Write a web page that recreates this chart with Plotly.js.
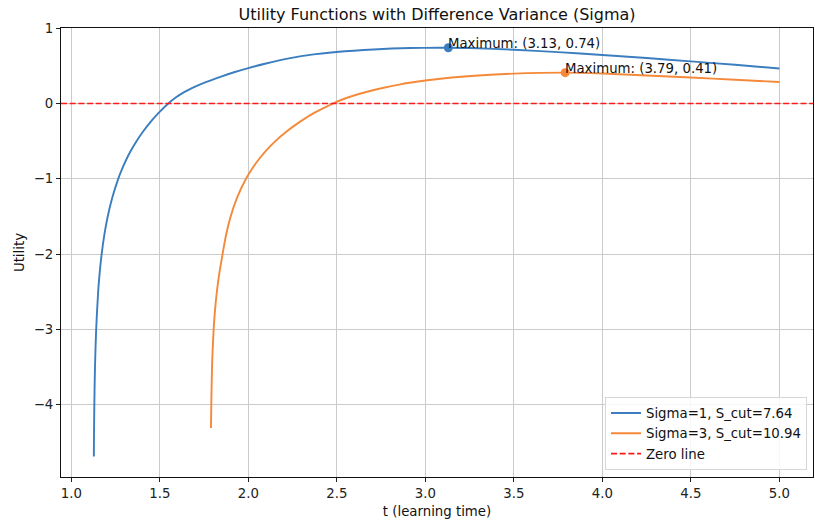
<!DOCTYPE html>
<html>
<head>
<meta charset="utf-8">
<script src="https://cdn.plot.ly/plotly-3.0.1.min.js"></script>
<style>html,body{margin:0;padding:0;background:#fff;}#chart{width:815px;height:524px;}</style>
</head>
<body>
<div id="chart"></div>
<script>
// Series 1: Sigma=1, S_cut=7.64
var blueT = [1.1276, 1.1281, 1.1303, 1.1340, 1.1406, 1.1519, 1.1604, 1.1716, 1.1863, 1.2058, 1.2315, 1.2653, 1.2860, 1.3098, 1.3371, 1.3684, 1.4046, 1.4458, 1.4936, 1.548, 1.59, 1.64, 1.70, 1.76, 1.842, 1.92, 2.0, 2.1, 2.237, 2.369, 2.497, 2.708, 2.915, 3.0, 3.13, 3.25, 3.5, 3.75, 4.0, 4.25, 4.5, 4.75, 5.0];
var blueU = [-4.687, -4.5, -4.0, -3.5, -3.0, -2.5, -2.25, -2.0, -1.75, -1.5, -1.25, -1.0, -0.875, -0.75, -0.625, -0.5, -0.375, -0.25, -0.125, 0.0, 0.08, 0.155, 0.225, 0.285, 0.355, 0.415, 0.47, 0.532, 0.603, 0.652, 0.684, 0.718, 0.737, 0.739, 0.74, 0.737, 0.715, 0.683, 0.645, 0.604, 0.56, 0.514, 0.466];
// Series 2: Sigma=3, S_cut=10.94
var orangeT = [1.7893, 1.7910, 1.7952, 1.7990, 1.8043, 1.8118, 1.8224, 1.8367, 1.8548, 1.874, 1.9003, 1.9367, 1.987, 2.0187, 2.0565, 2.1006, 2.1531, 2.2144, 2.2868, 2.3720, 2.4774, 2.55, 2.63, 2.727, 2.859, 3.0, 3.15, 3.3, 3.5, 3.79, 4.0, 4.25, 4.5, 4.75, 5.0];
var orangeU = [-4.31, -4.0, -3.5, -3.25, -3.0, -2.75, -2.5, -2.25, -2.0, -1.75, -1.5, -1.25, -1.0, -0.875, -0.75, -0.625, -0.5, -0.375, -0.25, -0.125, 0.0, 0.07, 0.13, 0.19, 0.255, 0.305, 0.345, 0.373, 0.397, 0.41, 0.398, 0.373, 0.345, 0.315, 0.285];
// Maxima
var maxT = [3.13, 3.79];
var maxU = [0.74, 0.41];
var maxLabels = ["Maximum: (3.13, 0.74)", "Maximum: (3.79, 0.41)"];
var seriesNames = ["Sigma=1, S_cut=7.64", "Sigma=3, S_cut=10.94", "Zero line"];
var zeroLevel = 0;
var xRange = [0.942, 5.19];
var yRange = [-4.96, 1.003];
var xTicks = [1.0, 1.5, 2.0, 2.5, 3.0, 3.5, 4.0, 4.5, 5.0];
var yTicks = [-4, -3, -2, -1, 0, 1];

var blue = '#3b7ebf', orange = '#f5893a';
var F = 'DejaVu Sans, sans-serif';
var FS = 13.3;

var traces = [
  {x: blueT, y: blueU, mode: 'lines', name: seriesNames[0], line: {color: blue, width: 1.9, shape: 'spline', smoothing: 0.8}},
  {x: orangeT, y: orangeU, mode: 'lines', name: seriesNames[1], line: {color: orange, width: 1.9, shape: 'spline', smoothing: 0.8}},
  {x: xRange, y: [zeroLevel, zeroLevel], mode: 'lines', name: seriesNames[2], line: {color: '#ff1a1a', width: 1.7, dash: '6px,2.7px'}},
  {x: [maxT[0]], y: [maxU[0]], mode: 'markers', showlegend: false, marker: {color: blue, size: 9}},
  {x: [maxT[1]], y: [maxU[1]], mode: 'markers', showlegend: false, marker: {color: orange, size: 9}}
];

var annotations = maxT.map(function(t, i){
  return {x: t, y: maxU[i], xref: 'x', yref: 'y', text: maxLabels[i], showarrow: false,
    xanchor: 'left', yanchor: 'bottom', xshift: -2, yshift: -5, font: {family: F, size: FS, color: '#111'}};
});

var axisCommon = {
  showline: true, mirror: true, linecolor: '#111', linewidth: 1,
  showgrid: true, gridcolor: '#cbcbcb', gridwidth: 1, zeroline: false,
  ticks: 'outside', ticklen: 4, tickwidth: 1, tickcolor: '#222',
  tickfont: {family: F, size: FS, color: '#222'}, automargin: false
};

var layout = {
  width: 815, height: 524,
  margin: {l: 61, r: 2, t: 28, b: 47, pad: 0},
  paper_bgcolor: '#fff', plot_bgcolor: '#fff',
  title: {text: 'Utility Functions with Difference Variance (Sigma)', font: {family: F, size: 16, color: '#111'},
    xref: 'paper', x: 0.5, xanchor: 'center', yref: 'container', y: 0.973, yanchor: 'middle'},
  xaxis: Object.assign({}, axisCommon, {range: xRange, tickvals: xTicks, ticktext: xTicks.map(function(v){return v.toFixed(1);}),
    title: {text: 't (learning time)', font: {family: F, size: FS, color: '#111'}, standoff: 6}}),
  yaxis: Object.assign({}, axisCommon, {range: yRange, tickvals: yTicks,
    title: {text: 'Utility', font: {family: F, size: FS, color: '#111'}, standoff: 6}}),
  legend: {x: 0.992, y: 0.016, xanchor: 'right', yanchor: 'bottom', bgcolor: 'rgba(255,255,255,0.85)',
    bordercolor: '#d6d6d6', borderwidth: 1, font: {family: F, size: FS, color: '#111'}},
  annotations: annotations,
  showlegend: true
};

Plotly.newPlot('chart', traces, layout, {staticPlot: true, displayModeBar: false});
</script>
</body>
</html>
